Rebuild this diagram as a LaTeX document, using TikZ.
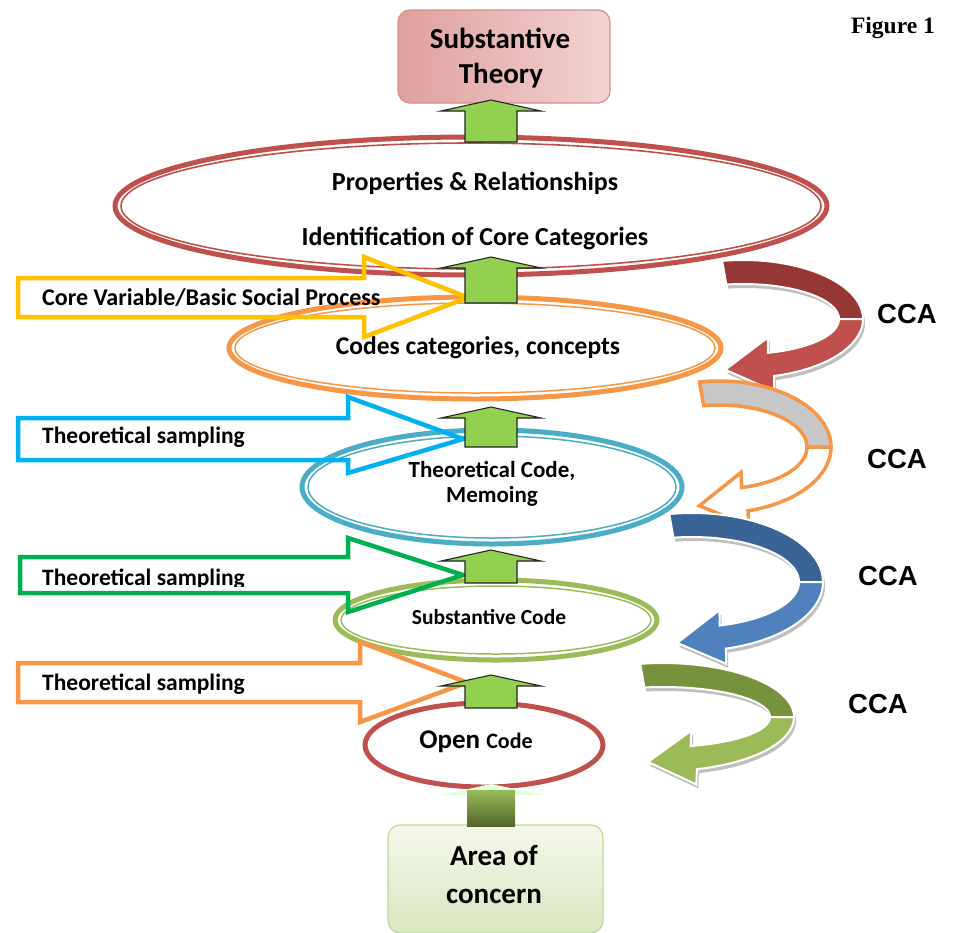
\documentclass[tikz,border=0pt]{standalone}
\usepackage{fontspec}
\setmainfont{Carlito}
\newfontfamily\arialf{Liberation Sans}
\newfontfamily\timesf{Liberation Serif}
\usetikzlibrary{shapes.geometric,calc}
\definecolor{redC}{HTML}{C0504D}
\definecolor{redD}{HTML}{953735}
\definecolor{oranC}{HTML}{F79646}
\definecolor{blueC}{HTML}{4BACC6}
\definecolor{blueA}{HTML}{00B0F0}
\definecolor{greenA}{HTML}{00B050}
\definecolor{greenC}{HTML}{9BBB59}
\definecolor{greenD}{HTML}{76923C}
\definecolor{yellA}{HTML}{FFC000}
\definecolor{boxgreen}{HTML}{92D050}
\definecolor{bblue}{HTML}{4F81BD}
\definecolor{bblueD}{HTML}{3B6496}
\definecolor{pinkL}{HTML}{F2D3D2}
\definecolor{pinkD}{HTML}{DFA09E}
\definecolor{pinkB}{HTML}{D48E8C}
\definecolor{areaT}{HTML}{F4F8EC}
\definecolor{areaB}{HTML}{D9E5BF}
\definecolor{areaE}{HTML}{C3D69B}
\newcommand\fsz[1]{\fontsize{#1}{#1}\selectfont}
% curved CCA arrow: cx, cy, rx, ry, top style, bottom style
\newcommand\ccaarrow[6]{%
  \pgfmathsetmacro\ccRxO{#3+12}\pgfmathsetmacro\ccRyO{#4+12}%
  \pgfmathsetmacro\ccRxI{#3-12}\pgfmathsetmacro\ccRyI{#4-12}%
  \pgfmathsetmacro\ccEx{#1+#3*cos(75)}\pgfmathsetmacro\ccEy{#2+#4*sin(75)}%
  \pgfmathsetmacro\ccTx{-#3*sin(75)}\pgfmathsetmacro\ccTy{#4*cos(75)}%
  \pgfmathsetmacro\ccLen{sqrt(\ccTx*\ccTx+\ccTy*\ccTy)}%
  \pgfmathsetmacro\ccUx{\ccTx/\ccLen}\pgfmathsetmacro\ccUy{\ccTy/\ccLen}%
  \pgfmathsetmacro\ccTipx{\ccEx+46*\ccUx}\pgfmathsetmacro\ccTipy{\ccEy+46*\ccUy}%
  \pgfmathsetmacro\ccOx{\ccEx+27*\ccUy}\pgfmathsetmacro\ccOy{\ccEy-27*\ccUx}%
  \pgfmathsetmacro\ccIx{\ccEx-27*\ccUy}\pgfmathsetmacro\ccIy{\ccEy+27*\ccUx}%
  \path[#5] plot[domain=-100:0,samples=40,variable=\t]({#1+\ccRxO*cos(\t)},{#2+\ccRyO*sin(\t)})
     -- plot[domain=0:-100,samples=40,variable=\t]({#1+\ccRxI*cos(\t)},{#2+\ccRyI*sin(\t)}) -- cycle;
  \path[#6] plot[domain=0:75,samples=40,variable=\t]({#1+\ccRxO*cos(\t)},{#2+\ccRyO*sin(\t)})
     -- (\ccOx,\ccOy) -- (\ccTipx,\ccTipy) -- (\ccIx,\ccIy)
     -- plot[domain=75:0,samples=40,variable=\t]({#1+\ccRxI*cos(\t)},{#2+\ccRyI*sin(\t)}) -- cycle;
}
% block arrow to the right: colour, x0, xbase, xtip, body top, body bottom, head top, head bottom
\newcommand\sidearrow[8]{%
  \draw[#1, line width=4.5, line join=miter] (#2,#5) -- (#3,#5) -- (#3,#7) -- (#4,{(#5+#6)/2}) -- (#3,#8) -- (#3,#6) -- (#2,#6) -- cycle;}
% green up block arrow: apex y, bottom y
\newcommand\upblock[2]{%
  \draw[fill=boxgreen, draw=black!85, line width=1.1, line join=miter]
    (465,#2) -- (465,{#1+11}) -- (441,{#1+11}) -- (491,#1) -- (541,{#1+11}) -- (517,{#1+11}) -- (517,#2) -- cycle;}
\begin{document}
\begin{tikzpicture}[x=1pt,y=-1pt,
  ring/.style={ellipse, draw=#1, line width=5, inner sep=0pt, outer sep=0pt, fill=white},
  lbl/.style={font=\bfseries, text=black, inner sep=0pt},
  cca/.style={font=\arialf\bfseries\fsz{27.5}, inner sep=0pt, anchor=base}]
\useasboundingbox (0,0) rectangle (955,932);

% ---- boxes
\node[draw=pinkB, line width=1.2, rounded corners=12, left color=pinkD, right color=pinkL,
      minimum width=212, minimum height=93, inner sep=0pt] (theory) at (504,56.5) {};
\node[lbl, anchor=base, font=\bfseries\fsz{29}] (theoryA) at (500,48) {Substantive};
\node[lbl, anchor=base, font=\bfseries\fsz{29}] (theoryB) at (501,83) {Theory};

\node[draw=areaE, line width=1.2, rounded corners=12, top color=areaT, bottom color=areaB,
      minimum width=215, minimum height=108, inner sep=0pt] (area) at (495.5,879) {};
\node[lbl, anchor=base, font=\bfseries\fsz{29}] (areaA) at (494,865) {Area of};
\node[lbl, anchor=base, font=\bfseries\fsz{29}] (areaB) at (494,903) {concern};

% ---- ellipses
\node[ring=redC, minimum width=712, minimum height=138] (props) at (471,206) {};
\draw[redC, line width=1.6] (props.center) ellipse [x radius=350pt, y radius=63pt];
\node[ring=oranC, minimum width=492, minimum height=102] (codes) at (475,348) {};
\draw[oranC, line width=1.5] (codes.center) ellipse [x radius=240pt, y radius=45pt];
\node[ring=blueC, minimum width=380, minimum height=114] (theo) at (492,487) {};
\draw[blueC, line width=1.5] (theo.center) ellipse [x radius=184pt, y radius=51pt];
\node[ring=greenC, minimum width=322, minimum height=80] (subst) at (496,620) {};
\draw[greenC, line width=1.5] (subst.center) ellipse [x radius=155pt, y radius=34pt];
\node[ring=redC, minimum width=238, minimum height=84] (open) at (484,745) {};

% ---- ellipse texts
\node[lbl, anchor=base, font=\bfseries\fsz{26}] (propA) at (475,190) {Properties \& Relationships};
\node[lbl, anchor=base, font=\bfseries\fsz{26}] (propB) at (475,245) {Identification of Core Categories};
\node[lbl, anchor=base, font=\bfseries\fsz{25.5}] (codesT) at (478,354) {Codes categories, concepts};
\node[lbl, anchor=base, font=\bfseries\fsz{23}] (theoA) at (492,477) {Theoretical Code,};
\node[lbl, anchor=base, font=\bfseries\fsz{23}] (theoB) at (492,502) {Memoing};
\node[lbl, anchor=base, font=\bfseries\fsz{21.5}] (substT) at (489,624) {Substantive Code};
\node[lbl, anchor=base, font=\bfseries\fsz{27}] (openT) at (476,748) {Open \fsz{22}Code};

% ---- side arrows
\sidearrow{yellA}{18}{364}{468}{278}{317}{257}{337}
\sidearrow{blueA}{18}{348}{463}{418}{460}{397}{473}
\sidearrow{greenA}{20}{348}{463}{557}{593}{538}{612}
\sidearrow{oranC}{18}{360}{467}{663}{702}{642}{722}
\node[lbl, anchor=base west, font=\bfseries\fsz{24}] (svA) at (42,305) {Core Variable/Basic Social Process};
\node[lbl, anchor=base west, font=\bfseries\fsz{23.5}] (svB) at (42,443) {Theoretical sampling};
\begin{scope}
  \clip (20,550) rectangle (340,586.5);
  \node[lbl, anchor=base west, font=\bfseries\fsz{23.5}] (svC) at (42,585) {Theoretical sampling};
\end{scope}
\begin{scope}
  \clip (20,660) rectangle (350,693.5);
  \node[lbl, anchor=base west, font=\bfseries\fsz{23.5}] (svD) at (42,690) {Theoretical sampling};
\end{scope}

% ---- green up arrows
\upblock{100}{142}
\upblock{257}{303}
\upblock{407}{447}
\upblock{550}{583}
\upblock{675}{708}
% arrow from area of concern
\fill[green!12!white] (441,795) -- (491,784) -- (545,795) -- cycle;
\fill[top color=greenC, bottom color=greenD!70!black] (467,790) rectangle (515,826);

% ---- CCA curved arrows
\ccaarrow{743}{319}{108}{47}{fill=black!25, shift={(2,4)}}{fill=black!25, shift={(2,4)}}
\ccaarrow{743}{319}{108}{47}{fill=redD, draw=white, line width=2}{fill=redC, draw=white, line width=2}
\ccaarrow{719}{447}{100}{54}{fill=black!22, draw=oranC, line width=3.5}{fill=white, draw=oranC, line width=3.5}
\ccaarrow{692}{582}{119}{57}{fill=black!25, shift={(2,4)}}{fill=black!25, shift={(2,4)}}
\ccaarrow{692}{582}{119}{57}{fill=bblueD, draw=white, line width=2}{fill=bblue, draw=white, line width=2}
\ccaarrow{663}{717}{119}{42}{fill=black!25, shift={(2,4)}}{fill=black!25, shift={(2,4)}}
\ccaarrow{663}{717}{119}{42}{fill=greenD, draw=white, line width=2}{fill=greenC, draw=white, line width=2}

\node[cca] (ccaA) at (907,323) {CCA};
\node[cca] (ccaB) at (897,468) {CCA};
\node[cca] (ccaC) at (888,585) {CCA};
\node[cca] (ccaD) at (878,713) {CCA};

\node[font=\timesf\bfseries\fsz{23.5}, anchor=base east, inner sep=0pt] (fig) at (935,33) {Figure 1};
\end{tikzpicture}
\end{document}
